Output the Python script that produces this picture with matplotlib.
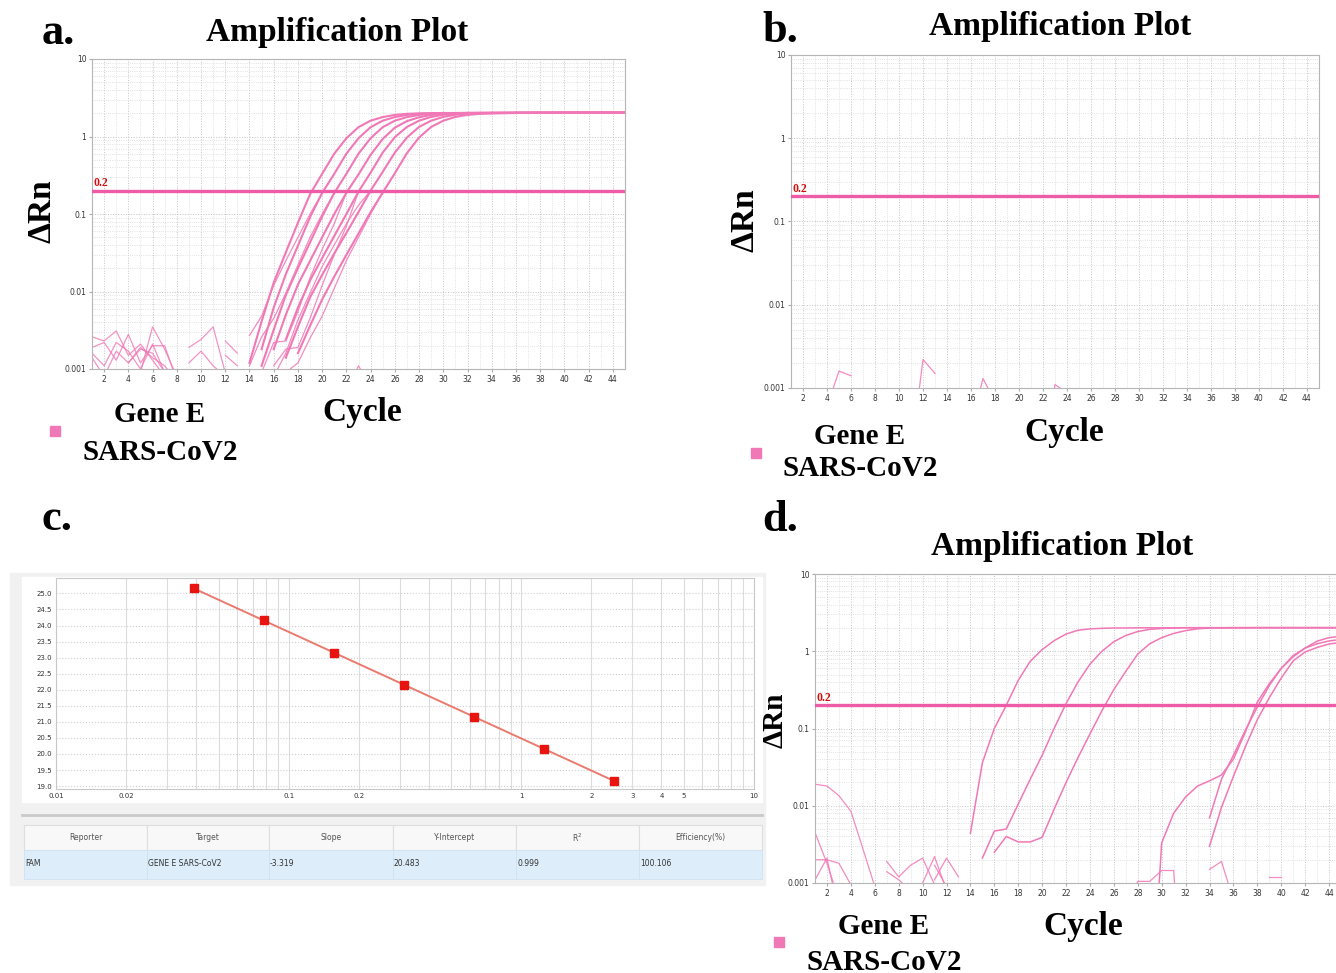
import numpy as np
import matplotlib
matplotlib.use('Agg')
import matplotlib.pyplot as plt
from matplotlib.patches import Rectangle
from matplotlib.lines import Line2D
from matplotlib.ticker import FixedLocator, FixedFormatter, MultipleLocator, NullFormatter, LogLocator

W, H = 1336, 973

# ---------------- data ----------------
# 扩增曲线 a: 7 个稀释梯度 (dRn, 每个 cycle 一个值, 从 start 开始)
a_start = [14, 15, 15, 16, 17, 17, 18]
a_rn1 = [0.0012, 0.0041, 0.013, 0.032, 0.077, 0.18, 0.33, 0.6, 0.95,
         1.32, 1.6, 1.78, 1.9, 1.96, 1.99, 2.0,
         2.01, 2.01, 2.02, 2.02, 2.02, 2.02,
         2.03, 2.03, 2.03, 2.03, 2.03, 2.03, 2.03, 2.03, 2.03, 2.03]
a_rn2 = [0.0018, 0.0062, 0.0167, 0.039, 0.091, 0.187, 0.33, 0.6, 0.95,
         1.32, 1.6, 1.78, 1.9, 1.96, 1.99, 2.0,
         2.01, 2.01, 2.02, 2.02, 2.02, 2.02,
         2.03, 2.03, 2.03, 2.03, 2.03, 2.03, 2.03, 2.03, 2.03]
a_rn3 = [0.0011, 0.0032, 0.009, 0.02, 0.043, 0.093, 0.187, 0.33, 0.6, 0.95,
         1.32, 1.6, 1.78, 1.9, 1.96, 1.99, 2.0,
         2.01, 2.01, 2.02, 2.02, 2.02, 2.02,
         2.03, 2.03, 2.03, 2.03, 2.03, 2.03, 2.03, 2.03]
a_rn4 = [0.0018, 0.005, 0.0123, 0.0248, 0.05, 0.1, 0.188, 0.324, 0.58, 0.93,
         1.3, 1.58, 1.77, 1.9, 1.96, 1.99, 2.0,
         2.01, 2.01, 2.02, 2.02, 2.02, 2.02,
         2.03, 2.03, 2.03, 2.03, 2.03, 2.03, 2.03]
a_rn5 = [0.0024, 0.0062, 0.0139, 0.027, 0.052, 0.1, 0.194, 0.342, 0.62, 0.98,
         1.33, 1.6, 1.79, 1.91, 1.97, 1.99, 2.0,
         2.01, 2.01, 2.02, 2.02, 2.02, 2.02,
         2.03, 2.03, 2.03, 2.03, 2.03, 2.03]
a_rn6 = [0.0014, 0.0035, 0.0084, 0.0164, 0.031, 0.057, 0.106, 0.2, 0.35, 0.62, 0.97,
         1.33, 1.6, 1.79, 1.91, 1.97, 1.99, 2.0,
         2.01, 2.01, 2.02, 2.02, 2.02, 2.02,
         2.03, 2.03, 2.03, 2.03, 2.03]
a_rn7 = [0.0016, 0.0036, 0.0079, 0.0156, 0.0297, 0.056, 0.106, 0.189, 0.336, 0.61, 0.97,
         1.33, 1.6, 1.79, 1.9, 1.96, 1.99, 2.0,
         2.01, 2.01, 2.02, 2.02, 2.02, 2.02,
         2.03, 2.03, 2.03, 2.03]
a_curves = [a_rn1, a_rn2, a_rn3, a_rn4, a_rn5, a_rn6, a_rn7]

# 复孔 (细线, 低处分开, 高处并入主曲线)
a_rep_start = [14, 14, 15, 16, 16, 17]
a_rep1 = [0.0027, 0.0048, 0.012, 0.025, 0.05, 0.1, 0.187]
a_rep2 = [0.0011, 0.0026, 0.0045, 0.0095, 0.022, 0.05, 0.1, 0.187]
a_rep3 = [0.0009, 0.0022, 0.0023, 0.0055, 0.015, 0.035, 0.075, 0.188]
a_rep4 = [0.0011, 0.0018, 0.0019, 0.0045, 0.012, 0.03, 0.07, 0.194]
a_rep5 = [0.0008, 0.0016, 0.0043, 0.0095, 0.021, 0.04, 0.075, 0.13, 0.2]
a_rep6 = [0.0009, 0.0012, 0.0025, 0.0048, 0.011, 0.025, 0.05, 0.1, 0.189]
a_reps = [a_rep1, a_rep2, a_rep3, a_rep4, a_rep5, a_rep6]

# 基线噪声 a
a_noise_start = [1, 1, 1, 1, 5, 4, 9, 9, 12, 12, 22]
a_noise = [
    [0.0026, 0.0023, 0.0031, 0.0015, 0.0021, 0.0013, 0.0008],
    [0.0019, 0.0022, 0.0013, 0.0028, 0.0012, 0.002, 0.002, 0.0007],
    [0.0016, 0.0011, 0.0022, 0.0017, 0.001, 0.0021, 0.0009],
    [0.0014, 0.0008, 0.0017, 0.0012, 0.0019, 0.0014, 0.0011, 0.0007],
    [0.0009, 0.0035, 0.0018, 0.0008],
    [0.0012, 0.0018, 0.0016, 0.0009],
    [0.0019, 0.0024, 0.0035, 0.0009],
    [0.0012, 0.0017, 0.0011, 0.0008],
    [0.0023, 0.0016],
    [0.0015, 0.0011],
    [0.0005, 0.0011, 0.0006],
]

# b: 阴性, 只有噪声
b_noise_start = [4, 11, 16, 22]
b_noise = [
    [0.0006, 0.0016, 0.0014],
    [0.00016, 0.0022, 0.0015],
    [0.00035, 0.0013, 0.00068],
    [0.0001, 0.0011, 0.00087],
]

# c: 标准曲线
c_quantity = [0.039, 0.078, 0.156, 0.3125, 0.625, 1.25, 2.5]
c_ct = [25.16, 24.16, 23.16, 22.15, 21.16, 20.15, 19.16]
c_xticks = [0.01, 0.02, 0.1, 0.2, 1, 2, 3, 4, 5, 10]
c_xlabels = ['0.01', '0.02', '0.1', '0.2', '1', '2', '3', '4', '5', '10']
c_yticks = [19.0, 19.5, 20.0, 20.5, 21.0, 21.5, 22.0, 22.5, 23.0, 23.5, 24.0, 24.5, 25.0]
table_cols = ['Reporter', 'Target', 'Slope', 'Y-Intercept', 'R$^2$', 'Efficiency(%)']
table_row = ['FAM', 'GENE E SARS-CoV2', '-3.319', '20.483', '0.999', '100.106']
c_slope = -3.319
c_intercept = 20.483

# d: 临床样本
d_start = [14, 15, 16, 29, 34, 34]
d_rn1 = [0.0044, 0.036, 0.1, 0.2, 0.42, 0.74, 1.05, 1.37, 1.67, 1.87, 1.95,
         1.98, 2.0, 2.0, 2.01, 2.01, 2.01, 2.01,
         2.02, 2.02, 2.02, 2.02, 2.02, 2.02, 2.02, 2.02, 2.02, 2.02, 2.02, 2.02, 2.02, 2.02]
d_rn2 = [0.0021, 0.0047, 0.005, 0.0105, 0.022, 0.045, 0.1, 0.21, 0.4, 0.68, 1.0,
         1.33, 1.6, 1.8, 1.92, 1.97, 2.0,
         2.01, 2.01, 2.01, 2.01,
         2.02, 2.02, 2.02, 2.02, 2.02, 2.02, 2.02, 2.02, 2.02, 2.02]
d_rn3 = [0.0025, 0.004, 0.0034, 0.0034, 0.0039, 0.009, 0.02, 0.042, 0.085, 0.17,
         0.32, 0.55, 0.92, 1.25, 1.5, 1.7, 1.85, 1.95, 2.0,
         2.01, 2.01, 2.01, 2.02, 2.02, 2.02, 2.02, 2.02, 2.02, 2.02, 2.02]
d_rn4 = [0.00001, 0.0033, 0.008, 0.013, 0.018, 0.021, 0.025, 0.04, 0.09, 0.22,
         0.38, 0.6, 0.85, 1.1, 1.35, 1.5, 1.56]
d_rn5 = [0.007, 0.022, 0.045, 0.095, 0.19, 0.36, 0.6, 0.88, 1.1, 1.25, 1.36, 1.42]
d_rn6 = [0.003, 0.0095, 0.024, 0.058, 0.13, 0.25, 0.45, 0.75, 0.98, 1.12, 1.24, 1.3]
d_curves = [d_rn1, d_rn2, d_rn3, d_rn4, d_rn5, d_rn6]

d_noise_start = [1, 1, 1, 1, 7, 7, 10, 11, 11, 27, 34, 39]
d_noise = [
    [0.019, 0.018, 0.0135, 0.0085, 0.0028, 0.0009],
    [0.0045, 0.0018, 0.0006],
    [0.002, 0.002, 0.0018, 0.00095],
    [0.0011, 0.0021, 0.0004],
    [0.0019, 0.0012, 0.0017, 0.0021, 0.00095],
    [0.0014, 0.0011, 0.0008],
    [0.001, 0.0022, 0.0008],
    [0.0017, 0.0009],
    [0.0011, 0.0021, 0.0012],
    [0.0005, 0.00105, 0.00105, 0.00145, 0.00145, 0.00001],
    [0.0015, 0.0019, 0.0006],
    [0.0012, 0.0012],
]

cycle_ticks = list(range(2, 45, 2))
amp_yticks = [0.001, 0.01, 0.1, 1, 10]
amp_ylabels = ['0.001', '0.01', '0.1', '1', '10']
threshold = 0.2

PINK = '#f178b6'
THR = '#ee5ba6'
SERIF = 'Liberation Serif'


def box(l, t, r, b):
    return [l / W, 1 - b / H, (r - l) / W, (b - t) / H]


def ftext(x, y, s, size, **kw):
    fig.text(x / W, 1 - y / H, s, fontsize=size, family=SERIF, weight='bold',
             ha='center', va='center', **kw)


def amp_axes(ax):
    ax.set_yscale('log')
    ax.set_xlim(1, 45)
    ax.set_ylim(0.001, 10)
    ax.xaxis.set_major_locator(FixedLocator(cycle_ticks))
    ax.xaxis.set_minor_locator(MultipleLocator(1))
    ax.yaxis.set_major_locator(FixedLocator(amp_yticks))
    ax.yaxis.set_major_formatter(FixedFormatter(amp_ylabels))
    ax.yaxis.set_minor_locator(LogLocator(base=10, subs=np.arange(2, 10)))
    ax.yaxis.set_minor_formatter(NullFormatter())
    ax.grid(which='major', color='#c4c4c4', ls=':', lw=0.7)
    ax.grid(which='minor', color='#d8d8d8', ls=':', lw=0.6)
    ax.tick_params(which='both', labelsize=5.5, labelcolor='#333333', length=2,
                   color='#aaaaaa', pad=2)
    ax.tick_params(which='minor', length=0)
    for s in ax.spines.values():
        s.set_color('#b5b5b5')
    ax.axhline(threshold, color=THR, lw=2.4, zorder=5)
    ax.text(1.1, threshold * 1.04, '0.2', color='#d01010', fontsize=8.5,
            family=SERIF, weight='bold', va='bottom', ha='left', zorder=6)


def plot_series(ax, starts, series, lw, alpha=1.0):
    for st, vals in zip(starts, series):
        cyc = np.arange(st, st + len(vals))
        ax.plot(cyc, vals, color=PINK, lw=lw, alpha=alpha, solid_joinstyle='round')


def amp_labels(title_xy, ylab_xy, ysize, cycle_xy, sq_xy, gene_xy, sars_xy):
    ftext(title_xy[0], title_xy[1], 'Amplification Plot', 24)
    ftext(ylab_xy[0], ylab_xy[1], 'ΔRn', ysize, rotation=90)
    ftext(cycle_xy[0], cycle_xy[1], 'Cycle', 24)
    ftext(gene_xy[0], gene_xy[1], 'Gene E', 21)
    ftext(sars_xy[0], sars_xy[1], 'SARS-CoV2', 21)
    fig.add_artist(Line2D([sq_xy[0] / W], [1 - sq_xy[1] / H], marker='s', ms=7,
                          color=PINK, ls='none'))


fig = plt.figure(figsize=(W / 100, H / 100), dpi=100)

# ---------- a ----------
ax_a = fig.add_axes(box(92, 59, 625, 369))
amp_axes(ax_a)
plot_series(ax_a, a_noise_start, a_noise, 0.9, 0.8)
plot_series(ax_a, a_rep_start, a_reps, 0.9, 0.85)
plot_series(ax_a, a_start, a_curves, 1.5)
ftext(58, 33, 'a.', 32)
amp_labels((337, 33), (42, 211), 24, (362, 413), (55, 431), (160, 414), (160, 452))

# ---------- b ----------
ax_b = fig.add_axes(box(791, 55, 1319, 388))
amp_axes(ax_b)
plot_series(ax_b, b_noise_start, b_noise, 0.9, 0.85)
ftext(780, 31, 'b.', 32)
amp_labels((1060, 27), (745, 220), 24, (1064, 433), (756, 453), (860, 436), (860, 468))

# ---------- c ----------
fig.add_artist(Rectangle((10 / W, 1 - 885 / H), 755 / W, 312 / H, transform=fig.transFigure,
                         color='#f1f1f1', zorder=0))
fig.add_artist(Rectangle((22 / W, 1 - 802 / H), 740 / W, 225 / H, transform=fig.transFigure,
                         color='white', zorder=0))
fig.add_artist(Line2D([22 / W, 762 / W], [1 - 815 / H, 1 - 815 / H], color='#c9c9c9', lw=2))

ax_c = fig.add_axes(box(56, 578, 754, 789))
ax_c.set_xscale('log')
ax_c.set_xlim(0.01, 10)
ax_c.set_ylim(18.91, 25.48)
ax_c.xaxis.set_major_locator(FixedLocator(c_xticks))
ax_c.xaxis.set_major_formatter(FixedFormatter(c_xlabels))
ax_c.xaxis.set_minor_locator(LogLocator(base=10, subs=np.arange(1, 10)))
ax_c.xaxis.set_minor_formatter(NullFormatter())
ax_c.yaxis.set_major_locator(FixedLocator(c_yticks))
ax_c.yaxis.set_major_formatter(FixedFormatter(['%.1f' % v for v in c_yticks]))
ax_c.grid(which='minor', axis='x', color='#dcdcdc', ls='-', lw=0.8)
ax_c.grid(which='major', axis='x', color='#dcdcdc', ls='-', lw=0.8)
ax_c.grid(which='major', axis='y', color='#cfcfcf', ls=':', lw=0.8)
ax_c.tick_params(which='both', labelsize=5, labelcolor='#333333', length=0, pad=3)
for s in ax_c.spines.values():
    s.set_color('#c8c8c8')
# 回归线: 用表里的斜率和截距
xfit = np.array([min(c_quantity), max(c_quantity)])
ax_c.plot(xfit, c_intercept + c_slope * np.log10(xfit), color='#ea7a6e', lw=1.4, zorder=3)
ax_c.plot(c_quantity, c_ct, 's', color='#e8140f', ms=6, zorder=4)
ftext(57, 519, 'c.', 32)

# 表格
col_x = [24, 147, 269, 393, 516, 639, 762]
for i, name in enumerate(table_cols):
    l, r = col_x[i], col_x[i + 1]
    fig.add_artist(Rectangle((l / W, 1 - 850 / H), (r - l) / W, 25 / H, transform=fig.transFigure,
                             facecolor='#f8f8f8', edgecolor='#dedede', lw=0.8))
    fig.add_artist(Rectangle((l / W, 1 - 879 / H), (r - l) / W, 29 / H, transform=fig.transFigure,
                             facecolor='#ddeefa', edgecolor='#cfe3f3', lw=0.6))
    fig.text((l + r) / 2 / W, 1 - 838 / H, name, fontsize=5.5, color='#555555',
             ha='center', va='center')
    fig.text((l + 1) / W, 1 - 864 / H, table_row[i], fontsize=5.5, color='#333333',
             ha='left', va='center')

# ---------- d ----------
ax_d = fig.add_axes(box(815, 574, 1341, 883))
amp_axes(ax_d)
plot_series(ax_d, d_noise_start, d_noise, 0.9, 0.85)
plot_series(ax_d, d_start, d_curves, 1.1)
ftext(780, 520, 'd.', 32)
amp_labels((1062, 546), (775, 720), 21, (1083, 926), (779, 942), (884, 926), (884, 962))

fig.savefig('out.png', dpi=100)
